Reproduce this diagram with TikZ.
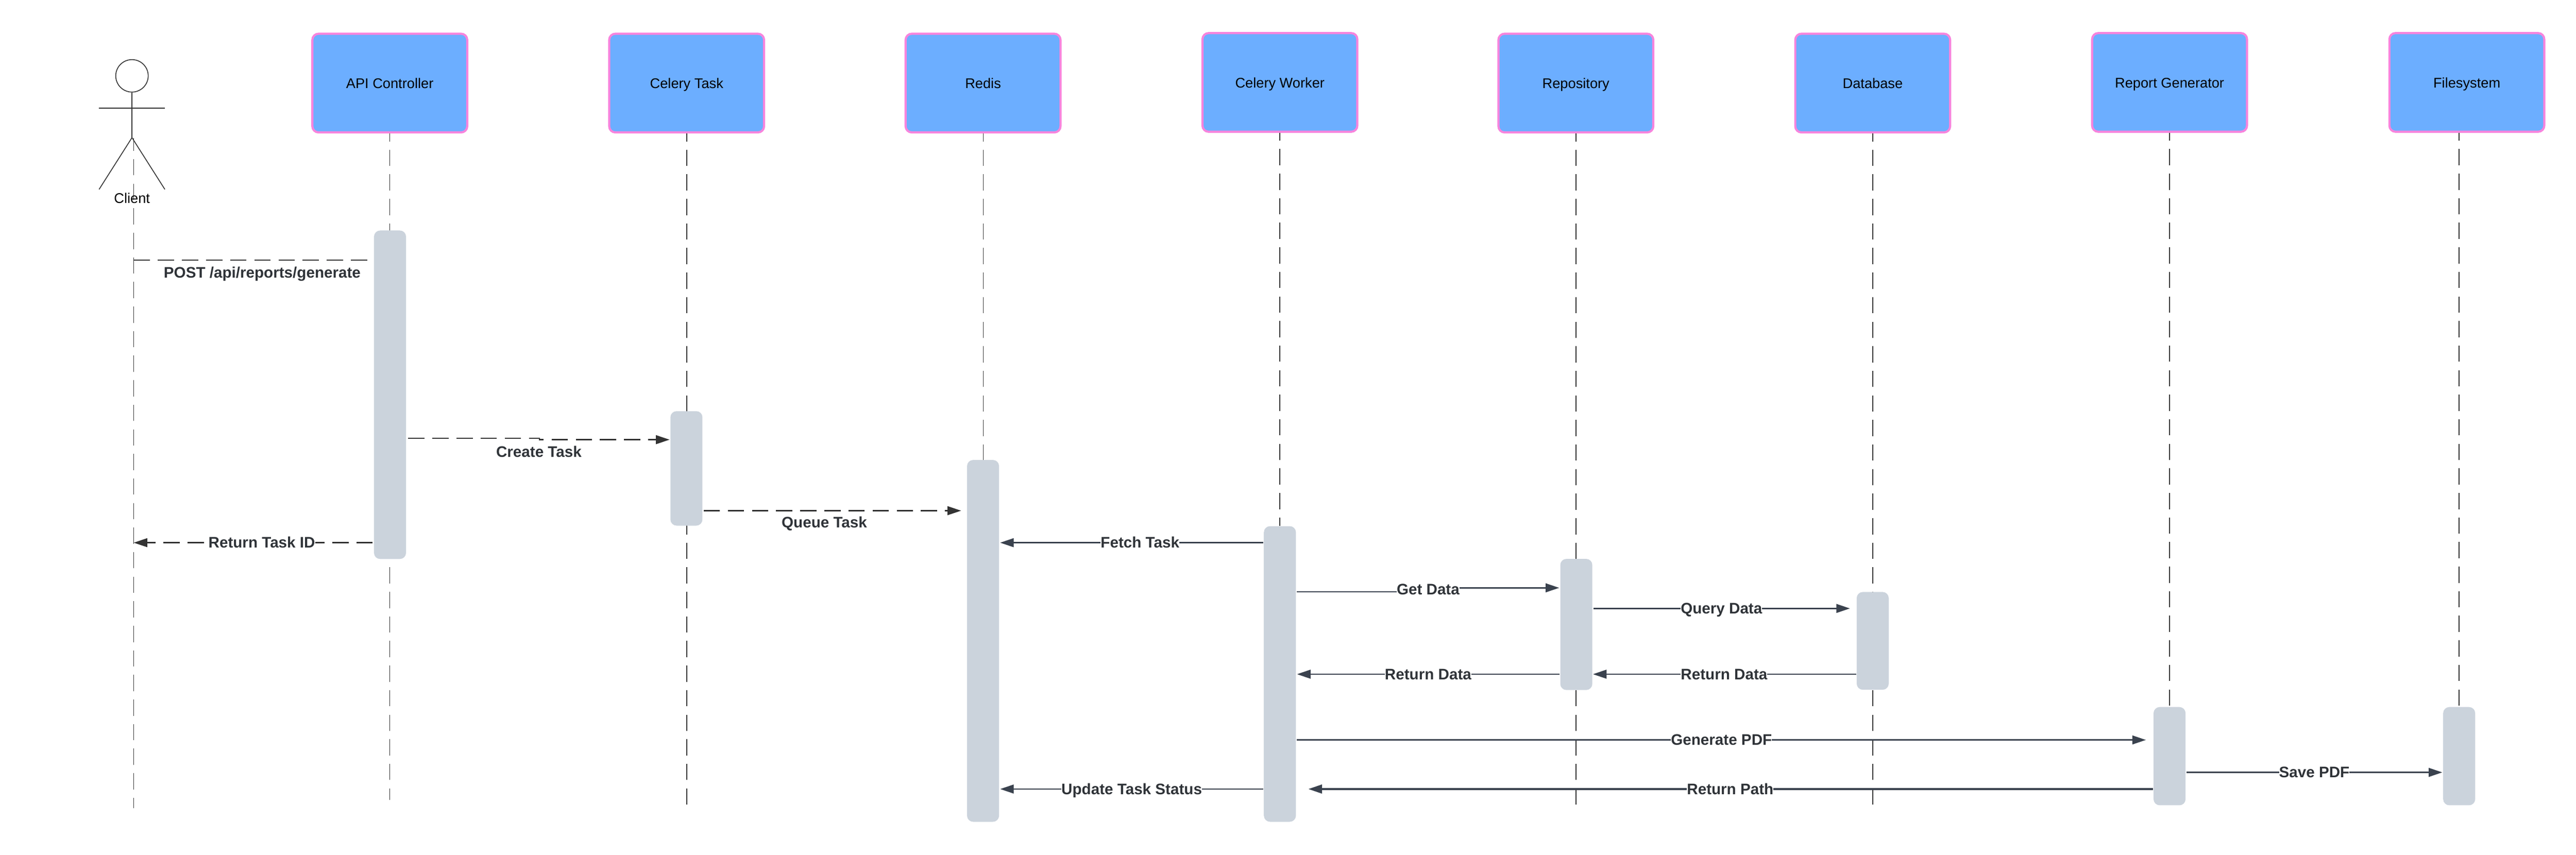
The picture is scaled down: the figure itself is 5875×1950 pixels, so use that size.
\documentclass[tikz,border=0pt]{standalone}
\usepackage{fontspec}
\setmainfont{Liberation Sans}
\usetikzlibrary{arrows.meta}
\definecolor{boxfill}{HTML}{6CAEFF}
\definecolor{boxline}{HTML}{F784DD}
\definecolor{actfill}{HTML}{CBD3DC}
\definecolor{msgline}{HTML}{3A424E}
\definecolor{dashline}{HTML}{333333}
\definecolor{msgtext}{HTML}{2F3338}
\tikzset{
	actorbox/.style={draw=boxline, fill=boxfill, line width=1.4pt, rounded corners=4pt, minimum width=3.53cm, minimum height=2.25cm, inner sep=0pt, text height=0.3cm, text depth=0.06cm, font=\fontsize{9.1}{11}\selectfont},
	actbar/.style={fill=actfill, draw=none, rounded corners=4pt, minimum width=0.73cm, inner sep=0pt},
	lifeline/.style={draw=dashline, line width=0.55pt, dash pattern=on 0.37cm off 0.19cm, dash phase=0.19cm},
	stickman/.style={draw=dashline, line width=0.55pt},
	msgdash/.style={draw=dashline, line width=0.8pt, dash pattern=on 0.37cm off 0.18cm, -{Triangle[length=0.31cm,width=0.2cm]}},
	msgsolid/.style={draw=msgline, line width=0.9pt, -{Triangle[length=0.31cm,width=0.2cm]}},
	msglabel/.style={fill=white, inner sep=0pt, text=msgtext, text height=0.32cm, text depth=0.08cm, font=\fontsize{9.9}{12}\selectfont\bfseries},
}
\begin{document}
\begin{tikzpicture}[x=0.01cm, y=-0.01cm]
	\useasboundingbox (0,0) rectangle (5875,1950);
	% lifeline ends
	\coordinate (clientTop) at (305,315);
	\coordinate (clientEnd) at (305,1843);
	\coordinate (apiEnd) at (889,1825);
	\coordinate (celeryEnd) at (1566,1843);
	\coordinate (redisEnd) at (2242,1050);
	\coordinate (workerEnd) at (2919,1200);
	\coordinate (repoEnd) at (3594,1838);
	\coordinate (dbEnd) at (4271,1838);
	\coordinate (reportEnd) at (4948,1840);
	\coordinate (fileEnd) at (5608,1613);
	% participants
	\node[actorbox] (api) at (889,189.5) {API Controller};
	\node[actorbox] (celery) at (1566,189.5) {Celery Task};
	\node[actorbox] (redis) at (2242,189.5) {Redis};
	\node[actorbox] (worker) at (2919,188) {Celery Worker};
	\node[actorbox] (repo) at (3594,189.5) {Repository};
	\node[actorbox] (db) at (4271,189.5) {Database};
	\node[actorbox] (report) at (4948,188) {Report Generator};
	\node[actorbox] (file) at (5626,188) {Filesystem};
	\draw[lifeline, dash phase=0.08cm] (clientTop) -- (clientEnd);
	\draw[lifeline] (api.south) -- (apiEnd);
	\draw[lifeline] (celery.south) -- (celeryEnd);
	\draw[lifeline, line width=0.35pt] (redis.south) -- (redisEnd);
	\draw[lifeline] (worker.south) -- (workerEnd);
	\draw[lifeline] (repo.south) -- (repoEnd);
	\draw[lifeline] (db.south) -- (dbEnd);
	\draw[lifeline] (report.south) -- (reportEnd);
	\draw[lifeline] (file.south -| fileEnd) -- (fileEnd);
	% client figure
	\node[stickman, circle, minimum size=0.74cm, inner sep=0pt] (head) at (301,173) {};
	\coordinate (hip) at (301,314);
	\coordinate (armL) at (226,247);
	\coordinate (armR) at (376,247);
	\coordinate (footL) at (226,432);
	\coordinate (footR) at (376,432);
	\draw[stickman] (head.south) -- (hip);
	\draw[stickman] (armL) -- (armR);
	\draw[stickman] (footL) -- (hip) -- (footR);
	\node[text height=0.3cm, text depth=0.06cm, inner sep=0pt, font=\fontsize{9.1}{11}\selectfont] (client) at (301,452) {Client};
	% activations
	\node[actbar, minimum height=7.49cm] (apiAct) at (889.5,900.5) {};
	\node[actbar, minimum height=2.61cm] (celeryAct) at (1565.5,1068.5) {};
	\node[actbar, minimum height=8.25cm] (redisAct) at (2242,1462) {};
	\node[actbar, minimum height=6.74cm] (workerAct) at (2919,1537.5) {};
	\node[actbar, minimum height=2.99cm] (repoAct) at (3595,1424.5) {};
	\node[actbar, minimum height=2.23cm] (dbAct) at (4271,1462) {};
	\node[actbar, minimum height=2.24cm] (reportAct) at (4948,1725) {};
	\node[actbar, minimum height=2.24cm] (fileAct) at (5608.5,1725) {};
	% message ends
	\coordinate (postS) at (305,593);
	\coordinate (createS) at (931,1000);
	\coordinate (createK) at (1230,1000);
	\coordinate (createL) at (1230,1003);
	\coordinate (createE) at (1527,1003);
	\coordinate (queueS) at (1605,1165);
	\coordinate (queueE) at (2192,1165);
	\coordinate (taskidS) at (850,1238);
	\coordinate (taskidE) at (305,1238);
	\coordinate (fetchS) at (2881,1238);
	\coordinate (fetchE) at (2281,1238);
	\coordinate (getS) at (2958,1350);
	\coordinate (getK) at (3257,1350);
	\coordinate (getL) at (3257,1341);
	\coordinate (getE) at (3556,1341);
	\coordinate (queryS) at (3634,1388);
	\coordinate (queryE) at (4219,1388);
	\coordinate (backDbS) at (4233,1538);
	\coordinate (backDbE) at (3633,1538);
	\coordinate (backRepoS) at (3557,1538);
	\coordinate (backRepoE) at (2958,1538);
	\coordinate (genS) at (2958,1688);
	\coordinate (genE) at (4894,1688);
	\coordinate (saveS) at (4987,1762);
	\coordinate (saveE) at (5570,1762);
	\coordinate (pathS) at (4910,1800);
	\coordinate (pathE) at (2984,1800);
	\coordinate (statusS) at (2881,1800);
	\coordinate (statusE) at (2281,1800);
	% messages
	\draw[msgdash, -] (postS) -- (apiAct.west |- postS);
	\draw[msgdash] (createS) -- (createK) -- (createL) -- (createE);
	\draw[msgdash] (queueS) -- (queueE);
	\draw[msgdash] (taskidS) -- (taskidE);
	\draw[msgsolid] (fetchS) -- (fetchE);
	\draw[msgsolid] (getS) -- (getK) -- (getL) -- (getE);
	\draw[msgsolid] (queryS) -- (queryE);
	\draw[msgsolid] (backDbS) -- (backDbE);
	\draw[msgsolid] (backRepoS) -- (backRepoE);
	\draw[msgsolid] (genS) -- (genE);
	\draw[msgsolid] (saveS) -- (saveE);
	\draw[msgsolid, line width=1.05pt] (pathS) -- (pathE);
	\draw[msgsolid] (statusS) -- (statusE);
	% labels
	\node[msglabel] (postL) at (598,622) {POST /api/reports/generate};
	\node[msglabel] (createT) at (1229,1031) {Create Task};
	\node[msglabel] (queueT) at (1880,1192) {Queue Task};
	\node[msglabel] (taskidT) at (597,1238) {Return Task ID};
	\node[msglabel] (fetchT) at (2600,1238) {Fetch Task};
	\node[msglabel] (getT) at (3257,1345) {Get Data};
	\node[msglabel] (queryT) at (3926,1388) {Query Data};
	\node[msglabel] (backDbT) at (3932,1538) {Return Data};
	\node[msglabel] (backRepoT) at (3257,1538) {Return Data};
	\node[msglabel] (genT) at (3926,1688) {Generate PDF};
	\node[msglabel] (saveT) at (5278,1762) {Save PDF};
	\node[msglabel] (pathT) at (3946,1800) {Return Path};
	\node[msglabel] (statusT) at (2581,1800) {Update Task Status};
\end{tikzpicture}
\end{document}
